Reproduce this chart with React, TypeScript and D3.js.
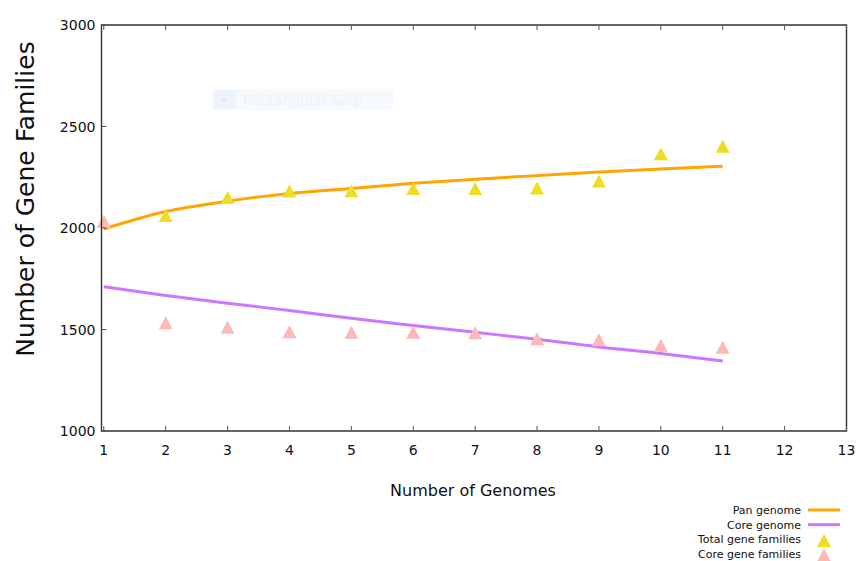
import * as d3 from "d3";

// values
const genomes = [1, 2, 3, 4, 5, 6, 7, 8, 9, 10, 11];
const panCurve = [1995, 2081, 2132, 2170, 2195, 2220, 2240, 2258, 2276, 2291, 2304];
const coreCurve = [1711, 1668, 1629, 1594, 1555, 1520, 1486, 1452, 1414, 1382, 1345];
const totalFamilies = [2032, 2061, 2150, 2182, 2184, 2194, 2194, 2197, 2231, 2366, 2403];
const coreFamilies = [2032, 1533, 1511, 1489, 1486, 1487, 1484, 1455, 1450, 1423, 1413];

const xTicks = [1, 2, 3, 4, 5, 6, 7, 8, 9, 10, 11, 12, 13];
const yTicks = [1000, 1500, 2000, 2500, 3000];

const legendItems = [
  { label: "Pan genome", kind: "line", color: "#ffa500" },
  { label: "Core genome", kind: "line", color: "#cc77ff" },
  { label: "Total gene families", kind: "tri", color: "#eedd22" },
  { label: "Core gene families", kind: "tri", color: "#ffb8b8" },
];

const FONT = "Tahoma, 'DejaVu Sans', Verdana, sans-serif";

function triangle(cx: number, cy: number) {
  const w = 7;
  const h = 6.5;
  return `M ${cx} ${cy - h} L ${cx + w} ${cy + h} L ${cx - w} ${cy + h} Z`;
}

export default function App() {
  const width = 859;
  const height = 561;
  const left = 101.5;
  const right = 846.5;
  const top = 25;
  const bottom = 431;

  const x = d3.scaleLinear().domain([0.963, 13]).range([left, right]);
  const y = d3.scaleLinear().domain([1000, 3000]).range([bottom, top]);

  const line = d3
    .line<number>()
    .x((_, i) => x(genomes[i]))
    .y((d) => y(d))
    .curve(d3.curveMonotoneX);

  return (
    <svg
      width={width}
      height={height}
      style={{ position: "absolute", left: 0, top: 0, background: "#fff" }}
      fontFamily={FONT}
    >
      {/* faint screen-capture leftover */}
      <rect x={212} y={89} width={181} height={21} fill="#f6f9fe" />
      <rect x={214} y={90} width={22} height={19} fill="#edf4fc" />
      <circle cx={224} cy={100} r={2.5} fill="#e4e8ec" />
      <text x={243} y={105} fontSize={14} fill="#f0f2f6">
        Rectangular Snip
      </text>

      {/* curves */}
      <path d={line(panCurve) ?? ""} fill="none" stroke="#ffa500" strokeWidth={3} />
      <path d={line(coreCurve) ?? ""} fill="none" stroke="#cc77ff" strokeWidth={3} />

      {/* points */}
      {totalFamilies.map((v, i) => (
        <path key={`t${i}`} d={triangle(x(genomes[i]), y(v))} fill="#eedd22" />
      ))}
      {coreFamilies.map((v, i) => (
        <path key={`c${i}`} d={triangle(x(genomes[i]), y(v))} fill="#ffb8b8" />
      ))}

      {/* frame */}
      <path
        d={`M ${left} ${top} H ${right} V ${bottom} H ${left} Z`}
        fill="none"
        stroke="#333"
        strokeWidth={1.4}
      />

      {/* x ticks, bottom and top, inward */}
      {xTicks.map((t) => (
        <g key={`x${t}`}>
          <line x1={x(t)} x2={x(t)} y1={bottom} y2={bottom - 5} stroke="#555" strokeWidth={1} />
          <line x1={x(t)} x2={x(t)} y1={top} y2={top + 5} stroke="#555" strokeWidth={1} />
          <text x={x(t)} y={bottom + 24} fontSize={14} textAnchor="middle" fill="#111">
            {t}
          </text>
        </g>
      ))}

      {/* y ticks */}
      {yTicks.map((t) => (
        <g key={`y${t}`}>
          <line x1={left} x2={left + 5} y1={y(t)} y2={y(t)} stroke="#555" strokeWidth={1} />
          <text x={left - 6} y={y(t) + 5} fontSize={14} textAnchor="end" fill="#111">
            {t}
          </text>
        </g>
      ))}

      {/* axis titles */}
      <text x={473} y={496} fontSize={16} textAnchor="middle" fill="#111">
        Number of Genomes
      </text>
      <text
        transform={`translate(34, 199) rotate(-90)`}
        fontSize={25}
        textAnchor="middle"
        fill="#111"
      >
        Number of Gene Families
      </text>

      {/* legend */}
      {legendItems.map((d, i) => {
        const ly = 510 + i * 14.7;
        return (
          <g key={d.label}>
            <text x={801} y={ly + 4} fontSize={11} textAnchor="end" fill="#111">
              {d.label}
            </text>
            {d.kind === "line" ? (
              <line x1={808} x2={840} y1={ly} y2={ly} stroke={d.color} strokeWidth={3} />
            ) : (
              <path d={triangle(824, ly + 1)} fill={d.color} />
            )}
          </g>
        );
      })}
    </svg>
  );
}
